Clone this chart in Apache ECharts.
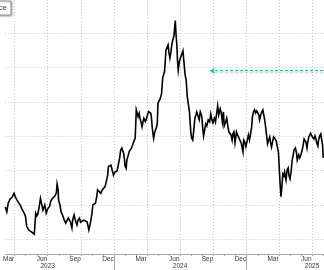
<!DOCTYPE html>
<html><head><meta charset="utf-8">
<script src="https://cdn.jsdelivr.net/npm/echarts@6/dist/echarts.min.js"></script>
<style>html,body{margin:0;padding:0;background:#fff;overflow:hidden}#c{width:324px;height:270px}</style>
</head><body><div id="c"></div>
<script>
const seriesName = 'Price';
const axisStart = '2023-03-06';
const axisEnd = '2025-08-03';
const monthNames = ['Jan','Feb','Mar','Apr','May','Jun','Jul','Aug','Sep','Oct','Nov','Dec'];
const labelMonths = [3, 6, 9, 12];
const gridMonths = [1, 4, 7, 10];
const yMin = 35.72, yMax = 109.7, yStep = 10;
const targetLevel = 89.1;
const targetStart = '2024-09-22';

const dates = [
'2023-03-06','2023-03-10','2023-03-14','2023-03-19','2023-03-25','2023-03-30','2023-04-03','2023-04-07','2023-04-12','2023-04-16',
'2023-04-21','2023-04-25','2023-04-28','2023-05-01','2023-05-04','2023-05-08','2023-05-10','2023-05-14','2023-05-18','2023-05-21',
'2023-05-25','2023-05-29','2023-06-01','2023-06-04','2023-06-08','2023-06-11','2023-06-15','2023-06-18','2023-06-23','2023-06-27',
'2023-07-01','2023-07-06','2023-07-10','2023-07-14','2023-07-17','2023-07-21','2023-07-25','2023-07-27','2023-07-30','2023-07-31',
'2023-08-04','2023-08-07','2023-08-12','2023-08-16','2023-08-20','2023-08-24','2023-08-27','2023-08-30','2023-09-02','2023-09-06',
'2023-09-08','2023-09-12','2023-09-16','2023-09-20','2023-09-23','2023-09-27','2023-09-30','2023-10-05','2023-10-09','2023-10-14',
'2023-10-18','2023-10-23','2023-10-27','2023-10-31','2023-11-03','2023-11-06','2023-11-10','2023-11-14','2023-11-16','2023-11-21',
'2023-11-25','2023-11-29','2023-12-03','2023-12-07','2023-12-10','2023-12-14','2023-12-16','2023-12-20','2023-12-23','2023-12-27',
'2023-12-30','2024-01-03','2024-01-05','2024-01-09','2024-01-13','2024-01-16','2024-01-19','2024-01-22','2024-01-24','2024-01-27',
'2024-01-29','2024-01-31','2024-02-03','2024-02-05','2024-02-09','2024-02-12','2024-02-15','2024-02-18','2024-02-21','2024-02-24',
'2024-02-28','2024-02-29','2024-03-02','2024-03-05','2024-03-07','2024-03-10','2024-03-12','2024-03-15','2024-03-18','2024-03-21',
'2024-03-23','2024-03-27','2024-03-30','2024-04-02','2024-04-05','2024-04-08','2024-04-11','2024-04-13','2024-04-15','2024-04-18',
'2024-04-19','2024-04-21','2024-04-24','2024-04-27','2024-04-29','2024-05-01','2024-05-04','2024-05-07','2024-05-10','2024-05-11',
'2024-05-14','2024-05-19','2024-05-21','2024-05-23','2024-05-26','2024-05-29','2024-05-31','2024-06-03','2024-06-06','2024-06-08',
'2024-06-11','2024-06-14','2024-06-18','2024-06-20','2024-06-22','2024-06-24','2024-06-26','2024-06-29','2024-07-03','2024-07-06',
'2024-07-09','2024-07-12','2024-07-15','2024-07-18','2024-07-21','2024-07-24','2024-07-27','2024-07-29','2024-07-31','2024-08-02',
'2024-08-05','2024-08-08','2024-08-11','2024-08-14','2024-08-16','2024-08-19','2024-08-23','2024-08-26','2024-08-30','2024-09-01',
'2024-09-04','2024-09-07','2024-09-10','2024-09-13','2024-09-17','2024-09-21','2024-09-24','2024-09-27','2024-09-30','2024-10-04',
'2024-10-07','2024-10-11','2024-10-13','2024-10-16','2024-10-20','2024-10-23','2024-10-26','2024-10-29','2024-10-31','2024-11-04',
'2024-11-07','2024-11-10','2024-11-13','2024-11-16','2024-11-19','2024-11-22','2024-11-24','2024-11-27','2024-11-30','2024-12-04',
'2024-12-07','2024-12-11','2024-12-14','2024-12-17','2024-12-20','2024-12-22','2024-12-24','2024-12-27','2024-12-30','2025-01-03',
'2025-01-06','2025-01-09','2025-01-12','2025-01-15','2025-01-17','2025-01-20','2025-01-23','2025-01-26','2025-01-29','2025-02-01',
'2025-02-04','2025-02-06','2025-02-09','2025-02-12','2025-02-15','2025-02-17','2025-02-20','2025-02-23','2025-02-25','2025-02-28',
'2025-03-03','2025-03-06','2025-03-08','2025-03-11','2025-03-14','2025-03-17','2025-03-21','2025-03-24','2025-03-27','2025-03-30',
'2025-04-01','2025-04-03','2025-04-06','2025-04-09','2025-04-11','2025-04-14','2025-04-16','2025-04-20','2025-04-23','2025-04-26',
'2025-04-28','2025-05-01','2025-05-04','2025-05-07','2025-05-10','2025-05-12','2025-05-16','2025-05-19','2025-05-21','2025-05-25',
'2025-05-28','2025-05-31','2025-06-03','2025-06-06','2025-06-09','2025-06-11','2025-06-14','2025-06-17','2025-06-19','2025-06-22',
'2025-06-25','2025-06-27','2025-06-30','2025-07-03','2025-07-06','2025-07-09','2025-07-11','2025-07-14','2025-07-17','2025-07-19',
'2025-07-22','2025-07-25','2025-07-28','2025-07-30','2025-08-01'
];
const values = [
49.4,48.0,50.6,51.7,52.3,53.4,52.3,51.5,50.6,50.0,
48.8,48.0,47.4,46.5,43.7,43.3,42.7,43.0,42.1,42.4,
41.5,47.6,46.8,47.4,49.7,51.9,50.0,48.5,50.0,47.6,
48.8,49.5,51.2,51.9,52.3,52.6,53.5,56.1,54.4,51.5,
50.0,48.0,46.8,45.6,44.7,45.0,46.2,46.6,45.0,43.3,
45.6,47.1,45.3,44.2,45.6,46.2,45.0,45.1,45.6,46.1,
45.1,42.7,44.7,47.1,50.0,50.3,50.5,52.6,54.4,54.9,
53.4,54.4,54.9,55.4,55.8,58.7,61.2,60.8,61.6,59.9,
58.7,59.6,59.7,59.9,60.2,63.7,66.0,66.6,67.0,65.1,
63.6,61.4,60.7,63.1,64.6,65.7,66.0,66.6,67.0,68.4,
69.5,69.9,77.7,76.5,75.7,76.7,75.3,74.2,72.8,74.5,
75.3,74.3,75.0,76.2,77.2,77.4,76.7,75.3,72.7,70.1,
69.4,70.7,71.8,72.7,73.6,79.7,80.3,80.9,81.1,82.5,
87.0,88.8,91.7,95.1,94.6,96.6,94.6,92.8,94.6,96.6,
98.1,99.2,103.7,99.5,96.9,92.2,89.3,91.7,93.1,94.0,
94.9,94.6,87.9,86.4,81.5,79.4,77.1,73.9,71.0,69.5,
68.9,71.8,75.3,76.2,77.1,76.2,74.8,77.1,75.9,73.3,
70.1,71.8,73.6,73.0,74.8,74.2,76.5,74.8,73.9,75.3,
74.2,77.1,78.8,76.2,78.0,76.8,74.2,77.1,73.0,74.2,
75.3,73.0,71.3,71.8,70.4,68.9,70.7,71.3,68.1,71.3,
70.4,69.5,69.2,68.1,66.6,65.5,68.9,68.3,67.0,68.9,
70.4,68.9,70.7,72.7,75.6,77.1,77.7,76.8,77.4,77.2,
76.2,74.8,76.2,77.1,77.7,76.5,74.8,72.4,70.4,67.8,
68.9,69.8,68.3,66.9,68.6,69.8,69.2,68.6,66.9,65.4,
61.4,57.3,52.4,55.8,59.0,58.4,59.6,57.3,60.2,60.8,
58.7,57.6,59.6,63.1,64.6,66.0,66.6,65.1,63.1,64.6,
63.7,64.6,65.7,67.2,69.2,69.5,68.3,66.6,68.3,69.8,
70.1,70.9,70.1,69.8,69.2,70.1,69.5,68.1,67.2,68.9,
70.1,70.7,70.9,67.5,63.7
];

// daily category axis
function fmt(d) {
  return d.getUTCFullYear() + '-' + String(d.getUTCMonth() + 1).padStart(2, '0') + '-' + String(d.getUTCDate()).padStart(2, '0');
}
const days = [];
for (let t = Date.parse(axisStart + 'T00:00:00Z'); t <= Date.parse(axisEnd + 'T00:00:00Z'); t += 86400000) {
  days.push(fmt(new Date(t)));
}
const mon = v => +v.slice(5, 7);
const dom = v => v.slice(8, 10);

const gridColor = '#c4c4c4';
const textColor = '#3a3a3a';

const chart = echarts.init(document.getElementById('c'), null, { renderer: 'canvas' });
chart.setOption({
  animation: false,
  backgroundColor: '#fff',
  grid: { left: 0, right: 0, top: 0, bottom: 16, containLabel: false },
  legend: {
    data: [seriesName],
    right: 313, top: 1,
    padding: [3, 4, 3, 4],
    itemWidth: 12, itemHeight: 8,
    backgroundColor: '#fff',
    borderColor: '#8c8c8c', borderWidth: 1,
    shadowColor: 'rgba(0,0,0,0.25)', shadowBlur: 2, shadowOffsetX: 1, shadowOffsetY: 1,
    textStyle: { fontSize: 7.5, color: textColor, fontFamily: 'Liberation Sans' },
    selectedMode: false
  },
  xAxis: [
    {
      type: 'category', data: days, boundaryGap: false, position: 'bottom',
      axisLine: { show: true, lineStyle: { color: '#a8a8a8', width: 1 } },
      axisTick: { show: true, length: 2, interval: (i, v) => dom(v) === '01', lineStyle: { color: '#a8a8a8' } },
      axisLabel: {
        show: true, interval: (i, v) => dom(v) === '15' && labelMonths.includes(mon(v)),
        formatter: v => monthNames[mon(v) - 1],
        margin: 2, fontSize: 6.5, color: textColor, fontFamily: 'Liberation Sans'
      },
      splitLine: {
        show: true, interval: (i, v) => dom(v) === '01' && gridMonths.includes(mon(v)),
        lineStyle: { color: gridColor, type: [1, 2], width: 1 }
      }
    },
    {
      type: 'category', data: days, boundaryGap: false, position: 'bottom',
      axisLine: { show: false },
      axisTick: { show: true, length: 16, interval: (i, v) => v.slice(5) === '01-01', lineStyle: { color: '#a8a8a8' } },
      axisLabel: {
        show: true, interval: (i, v) => v.slice(5) === '07-01',
        formatter: v => v.slice(0, 4),
        margin: 8.5, fontSize: 6.5, color: textColor, fontFamily: 'Liberation Sans'
      },
      splitLine: { show: false }
    }
  ],
  yAxis: {
    type: 'value', min: yMin, max: yMax, minInterval: yStep, maxInterval: yStep,
    axisLine: { show: false }, axisTick: { show: false }, axisLabel: { show: false },
    splitLine: { show: true, showMinLine: false, showMaxLine: false, lineStyle: { color: gridColor, type: [1, 2], width: 1 } }
  },
  series: [{
    name: seriesName,
    type: 'line',
    xAxisIndex: 0,
    data: dates.map((d, i) => [d, values[i]]),
    showSymbol: false,
    symbol: 'none',
    color: '#000',
    lineStyle: { color: '#000', width: 1.6, join: 'miter' },
    silent: true,
    markLine: {
      silent: true,
      symbol: ['arrow', 'none'],
      symbolSize: [5, 5],
      label: { show: false },
      lineStyle: {
        color: '#1fbf9c', type: [3, 2], width: 1.2,
        shadowColor: 'rgba(0,0,0,0.35)', shadowBlur: 2, shadowOffsetY: 2
      },
      data: [[
        { coord: [days.indexOf(targetStart), targetLevel] },
        { coord: [days.length - 1, targetLevel] }
      ]]
    }
  }]
});
</script>
</body></html>
